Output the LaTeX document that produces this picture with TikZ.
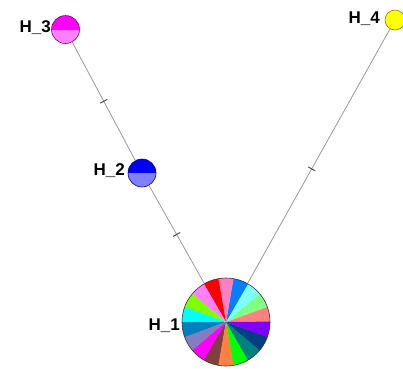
\documentclass[tikz,border=0pt]{standalone}
\usepackage{fontspec}
\setmainfont{Liberation Sans}
\usetikzlibrary{calc}
\definecolor{linegray}{HTML}{9A9A9A}
\definecolor{tickgray}{HTML}{505050}
\definecolor{cSalmon}{HTML}{FF8080}
\definecolor{cLightGreen}{HTML}{80FF80}
\definecolor{cLightCyan}{HTML}{80FFFF}
\definecolor{cSky}{HTML}{0080FF}
\definecolor{cPink}{HTML}{FF80C0}
\definecolor{cRed}{HTML}{FF0000}
\definecolor{cViolet}{HTML}{FF80FF}
\definecolor{cYGreen}{HTML}{80FF00}
\definecolor{cCyan}{HTML}{00FFFF}
\definecolor{cSteel}{HTML}{0080C0}
\definecolor{cMauve}{HTML}{8080C0}
\definecolor{cMagenta}{HTML}{FF00FF}
\definecolor{cBrown}{HTML}{804040}
\definecolor{cOrange}{HTML}{FF8040}
\definecolor{cGreen}{HTML}{00FF00}
\definecolor{cTeal}{HTML}{008080}
\definecolor{cNavy}{HTML}{004080}
\definecolor{cPurple}{HTML}{8000FF}
\definecolor{cBlue}{HTML}{0000FF}
\definecolor{cLightBlue}{HTML}{8080FF}
\definecolor{cYellow}{HTML}{FFFF00}
\begin{document}
\begin{tikzpicture}[x=1pt,y=-1pt,
  hap/.style 2 args={circle, draw=#1!50!black, line width=0.6pt, inner sep=0pt,
    path picture={
      \fill[#1] (path picture bounding box.north west) rectangle (path picture bounding box.east);
      \fill[#2] (path picture bounding box.west) rectangle (path picture bounding box.south east);
    }},
  haplabel/.style={anchor=east, inner sep=0pt, font=\fontsize{17}{20}\selectfont\bfseries},
  link/.style={draw=linegray, line width=0.8pt},
  tickmark/.style={draw=tickgray, line width=1pt}
]
\fill[white] (0,0) rectangle (403,368);
\useasboundingbox (0,0) rectangle (403,368);

% pie node H_1
\node[circle, draw=black!80, line width=0.6pt, inner sep=0pt, minimum size=88pt,
  path picture={
    \foreach \c [count=\i from 0] in {cSalmon,cLightGreen,cLightCyan,cSky,cPink,cRed,cViolet,cYGreen,cCyan,cSteel,cMauve,cMagenta,cBrown,cOrange,cGreen,cTeal,cNavy,cPurple}
      \fill[\c] (path picture bounding box.center) -- ++(\i*20:50pt) arc[start angle=\i*20, end angle=\i*20+20.5, radius=50pt] -- cycle;
  }] (h1) at (226,322) {};

\node[hap={cMagenta}{cViolet}, minimum size=28pt] (h3) at (65.5,29.5) {};
\node[hap={cBlue}{cLightBlue}, minimum size=28pt] (h2) at (142,173) {};
\node[hap={cYellow}{cYellow}, minimum size=20pt] (h4) at (395,20) {};

% connectors
\draw[link] (h3) -- coordinate[pos=0.5] (t1) (h2);
\draw[link] (h2) -- coordinate[pos=0.5] (t2) (h1);
\draw[link] (h1) -- coordinate[pos=0.45] (t3) (h4);

% mutation ticks
\draw[tickmark] ($(t1)!4pt!90:(h2)$) -- ($(t1)!4pt!-90:(h2)$);
\draw[tickmark] ($(t2)!4pt!90:(h1)$) -- ($(t2)!4pt!-90:(h1)$);
\draw[tickmark] ($(t3)!4pt!90:(h4)$) -- ($(t3)!4pt!-90:(h4)$);

% labels
\node[haplabel] (l1) at (180,326) {H\_1};
\node[haplabel] (l2) at (125,171) {H\_2};
\node[haplabel] (l3) at (51,28) {H\_3};
\node[haplabel] (l4) at (380,19) {H\_4};
\end{tikzpicture}
\end{document}
